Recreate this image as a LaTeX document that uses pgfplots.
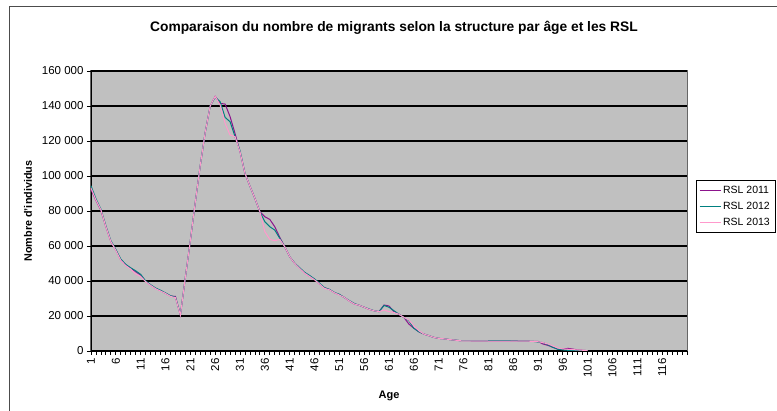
\documentclass[border=0pt]{standalone}
\usepackage{fontspec}
\setmainfont{Liberation Sans}
\usepackage{pgfplots}
\pgfplotsset{compat=1.18}
\definecolor{rslA}{RGB}{140,20,140}
\definecolor{rslB}{RGB}{0,128,128}
\definecolor{rslC}{RGB}{255,153,204}
\definecolor{plotbg}{RGB}{192,192,192}

\pgfplotstableread{
age a2011 a2012 a2013
1 92300 94400 93100
2 86000 87000 86300
3 80300 81000 80600
4 71000 71500 71000
5 62500 63000 62500
6 57700 58000 57500
7 52000 52500 51800
8 49200 49500 48800
9 47300 47500 46800
10 45300 45800 44000
11 43400 43800 42600
12 39800 40000 39600
13 37700 37900 37500
14 35800 36000 35600
15 34500 34700 34300
16 33000 33200 32900
17 31400 31600 31200
18 31200 30700 30500
19 20500 20800 20500
20 42000 42000 42000
21 63000 63000 63000
22 85000 85000 85000
23 106000 106000 106000
24 125000 125000 125000
25 140000 140000 140000
26 145500 145000 145500
27 141500 142500 140600
28 141100 133500 130000
29 133900 131000 123400
30 124300 122500 122500
31 113900 114500 113900
32 101500 101500 101500
33 94200 94200 94200
34 87200 87200 87200
35 79600 79600 79600
36 76700 73900 68200
37 75200 71000 63800
38 71000 69100 63000
39 65000 64400 63800
40 59600 59600 59600
41 53900 53900 53900
42 50100 50300 50100
43 47400 47600 47200
44 44700 45000 44500
45 42800 43200 42600
46 40900 41200 40700
47 38300 38800 38300
48 36200 36200 35800
49 35200 35200 35000
50 33300 33500 33300
51 32200 32400 32000
52 30600 30600 30600
53 28600 28800 28600
54 26900 27200 26900
55 26100 26100 26100
56 25000 25000 25000
57 23800 24000 23800
58 23000 23000 23000
59 22500 22500 22500
60 26300 26000 23400
61 25700 25000 22500
62 22500 23000 22000
63 21000 21000 21000
64 19200 19200 19200
65 15400 17300 17700
66 13000 13000 14300
67 11000 11000 11600
68 9700 9700 9700
69 8800 8800 8800
70 7800 7800 7800
71 7200 7200 7200
72 7000 7000 7000
73 6600 6600 6600
74 6300 6300 6300
75 6000 6000 5900
76 5900 5900 5800
77 5900 5900 5800
78 5800 5900 5800
79 5800 5900 5800
80 5800 5900 5800
81 5800 5900 5700
82 5800 5900 5700
83 5800 5900 5700
84 5800 5900 5700
85 5800 5900 5700
86 5800 5800 5700
87 5700 5700 5700
88 5700 5700 5600
89 5600 5600 5600
90 5500 5500 5500
91 5500 5100 5300
92 4000 4800 4800
93 3200 3600 4000
94 2100 2100 2900
95 1000 1000 1700
96 1000 600 1200
97 1500 400 1000
98 1100 300 800
99 600 300 600
100 400 200 400
101 200 200 200
}\migr

\begin{document}
\begin{tikzpicture}[x=1pt,y=1pt]
\path[use as bounding box] (0,0) rectangle (777,411);
\draw[gray!60!black, line width=1pt] (9,-2) -- (9,404) -- (779,404);
\node[font=\fontsize{13.8}{16}\selectfont\bfseries] at (394,383)
  {Comparaison du nombre de migrants selon la structure par âge et les RSL};
\begin{axis}[
  at={(91pt,60pt)}, anchor=south west,
  width=596pt, height=280pt, scale only axis,
  xmin=1, xmax=121, ymin=0, ymax=160000,
  scaled y ticks=false,
  axis x line*=bottom, axis y line*=left,
  axis line style={black, line width=0.9pt, -},
  axis background/.style={fill=plotbg, draw=gray!80!black, line width=1pt},
  xtick={1,6,...,116}, minor xtick={1,...,121},
  xticklabels={1,6,11,16,21,26,31,36,41,46,51,56,61,66,71,76,81,86,91,96,101,106,111,116},
  ytick={0,20000,40000,60000,80000,100000,120000,140000,160000},
  yticklabels={0,20 000,40 000,60 000,80 000,100 000,120 000,140 000,160 000},
  tick align=outside,
  major tick length=4pt, minor tick length=4pt,
  tick style={black, line width=0.8pt},
  xticklabel style={rotate=90, anchor=east, font=\fontsize{11.5}{13}\selectfont},
  yticklabel style={font=\fontsize{11.5}{13}\selectfont},
  ymajorgrids=true,
  grid style={black, line width=1.3pt},
  xlabel={\bfseries Age}, xlabel style={font=\fontsize{11}{13}\selectfont, yshift=-6pt},
  ylabel={\bfseries Nombre d'individus},
  ylabel style={font=\fontsize{10.8}{12}\selectfont, yshift=3pt},
  legend style={at={(1.015,0.611)}, anchor=north west, draw=black, fill=white,
    font=\fontsize{10.5}{12}\selectfont, row sep=3pt, inner xsep=3pt, inner ysep=4pt},
  legend cell align=left,
  legend image code/.code={\draw[#1] (0pt,0pt) -- (21pt,0pt);},
  every axis plot/.append style={line width=1pt, mark=none},
]
\addplot[rslA] table[x=age, y=a2011] {\migr};
\addplot[rslB] table[x=age, y=a2012] {\migr};
\addplot[rslC] table[x=age, y=a2013] {\migr};
\legend{RSL 2011, RSL 2012, RSL 2013}
\end{axis}
\end{tikzpicture}
\end{document}
